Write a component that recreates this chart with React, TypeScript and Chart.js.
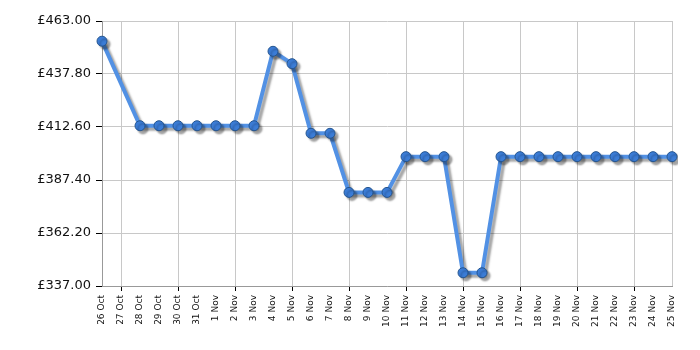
import React, { useEffect, useRef } from "react";
import { Chart, registerables } from "chart.js";

Chart.register(...registerables);

const labels = [
  "26 Oct", "27 Oct", "28 Oct", "29 Oct", "30 Oct", "31 Oct",
  "1 Nov", "2 Nov", "3 Nov", "4 Nov", "5 Nov", "6 Nov", "7 Nov", "8 Nov", "9 Nov", "10 Nov",
  "11 Nov", "12 Nov", "13 Nov", "14 Nov", "15 Nov", "16 Nov", "17 Nov", "18 Nov", "19 Nov", "20 Nov",
  "21 Nov", "22 Nov", "23 Nov", "24 Nov", "25 Nov",
];

const prices: (number | null)[] = [
  453.4, null, 413.2, 413.2, 413.2, 413.2,
  413.2, 413.2, 413.2, 448.6, 442.7, 409.6, 409.6, 381.5, 381.5, 381.5,
  398.5, 398.5, 398.5, 343.3, 343.3, 398.5, 398.5, 398.5, 398.5, 398.5,
  398.5, 398.5, 398.5, 398.5, 398.5,
];

const yTicks = [337.0, 362.2, 387.4, 412.6, 437.8, 463.0];

const shadowPlugin = {
  id: "shadow",
  beforeDatasetsDraw(chart: any) {
    const ctx = chart.ctx;
    ctx.save();
    ctx.shadowColor = "rgba(0,0,0,0.35)";
    ctx.shadowOffsetX = 3;
    ctx.shadowOffsetY = 3;
    ctx.shadowBlur = 2;
  },
  afterDatasetsDraw(chart: any) {
    chart.ctx.restore();
  },
};

export default function App() {
  const ref = useRef<HTMLCanvasElement | null>(null);
  useEffect(() => {
    if (!ref.current) return;
    Chart.defaults.font.family = "'DejaVu Sans', Verdana, sans-serif";
    const chart = new Chart(ref.current, {
      type: "line",
      data: {
        labels,
        datasets: [
          {
            data: prices,
            borderColor: "#5291e4",
            borderWidth: 4,
            pointRadius: 5,
            pointBackgroundColor: "#3b7cd6",
            pointBorderColor: "#25558f",
            pointBorderWidth: 1,
            spanGaps: true,
            tension: 0,
          },
        ],
      },
      options: {
        animation: false,
        responsive: true,
        maintainAspectRatio: false,
        layout: { padding: { top: 21, right: 28, left: 0, bottom: 0 } },
        plugins: { legend: { display: false }, tooltip: { enabled: false } },
        scales: {
          x: {
            grid: {
              color: (c: any) => (c.index % 3 === 1 || c.index === labels.length - 1 ? "#c8c8c8" : "rgba(0,0,0,0)"),
              tickColor: (c: any) => (c.index % 3 === 1 ? "#000" : "rgba(0,0,0,0)"),
              tickLength: 5,
              lineWidth: 1,
            },
            border: { color: "#999" },
            ticks: {
              autoSkip: false,
              maxRotation: 90,
              minRotation: 90,
              padding: 4,
              color: "#111",
              font: { size: 9 },
            },
            afterFit: (s: any) => {
              s.height = 64;
            },
          },
          y: {
            min: 337,
            max: 463,
            grid: { color: "#c8c8c8", tickColor: "#000", tickLength: 6 },
            border: { color: "#999" },
            ticks: {
              padding: 5,
              color: "#111",
              font: { size: 13 },
              callback: (v: any) => "£" + Number(v).toFixed(2),
            },
            afterBuildTicks: (s: any) => {
              s.ticks = yTicks.map((v) => ({ value: v }));
            },
            afterFit: (s: any) => {
              s.width = 102;
            },
          },
        },
      },
      plugins: [shadowPlugin],
    });
    return () => chart.destroy();
  }, []);
  return (
    <div style={{ position: "fixed", left: 0, top: 0, width: 700, height: 350, background: "#fff" }}>
      <canvas ref={ref} />
    </div>
  );
}
